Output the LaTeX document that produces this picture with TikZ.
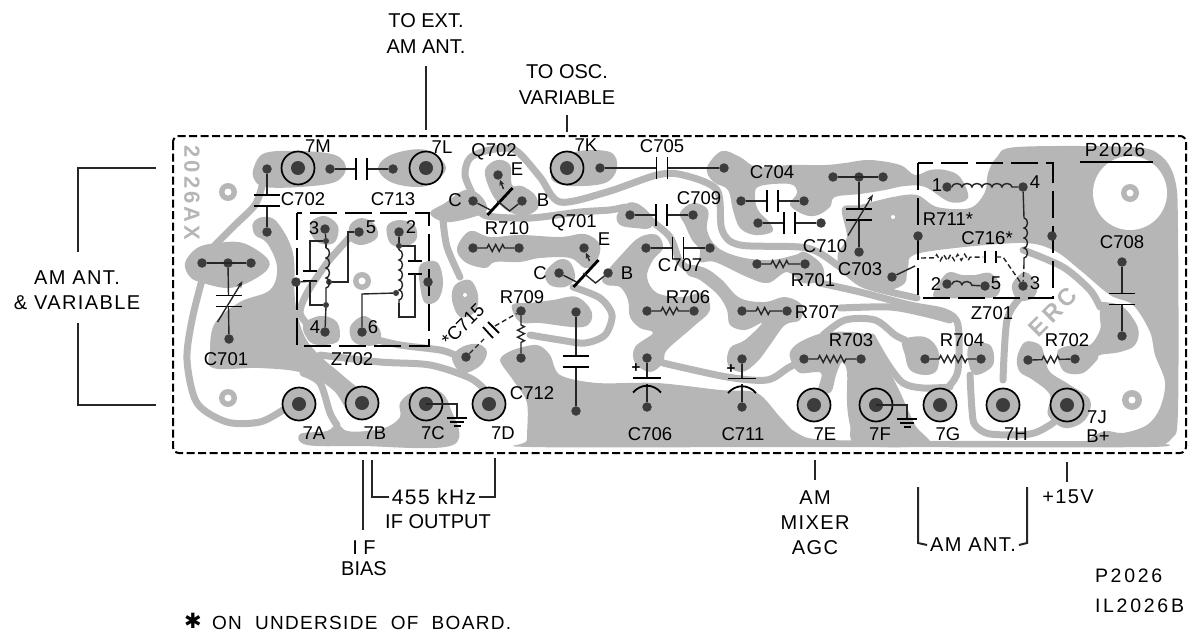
\documentclass[tikz,border=0pt]{standalone}
\usepackage{fontspec}
\setmainfont{Liberation Sans}
\newfontfamily\widefont[LetterSpace=14]{Liberation Sans}
\newfontfamily\midfont[LetterSpace=7]{Liberation Sans}
\newfontfamily\symfont{DejaVu Sans}
\usetikzlibrary{calc,decorations.pathmorphing,arrows.meta}
\definecolor{coppergray}{HTML}{B6B6B6}
\definecolor{paddark}{HTML}{3C3C3C}
\tikzset{
  copper/.style={fill=coppergray,draw=none},
  trace/.style={draw=coppergray,line width=7pt,line cap=round,line join=round},
  hole/.style={fill=white,draw=none},
  pad/.style={circle,fill=paddark,inner sep=0pt,minimum size=9.5pt},
  joint/.style={circle,fill=paddark,inner sep=0pt,minimum size=6pt},
  terminal/.style={circle,fill=coppergray,draw=black,line width=1.7pt,inner sep=0pt,minimum size=33pt},
  termdot/.style={circle,fill=paddark,inner sep=0pt,minimum size=14pt},
  lead/.style={draw=black!85,line width=1.4pt},
  plate/.style={draw=black,line width=1.8pt},
  resistor/.style={lead,decorate,decoration={zigzag,amplitude=3.4pt,segment length=7pt,pre length=9pt,post length=9pt}},
  coil/.style={lead,decorate,decoration={bumps,amplitude=3.5pt,segment length=20pt}},
  under/.style={lead,dashed,dash pattern=on 5pt off 3pt},
  boxline/.style={draw=black,line width=1.7pt,dash pattern=on 27pt off 8pt},
  boardline/.style={draw=black,line width=2pt,dash pattern=on 8pt off 3.5pt,rounded corners=6pt},
  leader/.style={draw=black!85,line width=2pt},
  part/.style={font=\fontsize{18.5}{18.5}\selectfont,inner sep=0pt,text=black},
  outer/.style={font=\fontsize{20}{26}\selectfont,inner sep=0pt,outer sep=3pt,align=center,text=black},
  wideouter/.style={outer,font=\fontsize{20}{25}\midfont},
  etched/.style={font=\fontsize{22}{22}\widefont\bfseries,inner sep=0pt,text=coppergray}
}
\newcommand{\hcap}[2]{
  \path ($(#1)!.5!(#2)$) coordinate (capm);
  \draw[lead] (#1) -- ([xshift=-5.5pt]capm);
  \draw[lead] (#2) -- ([xshift=5.5pt]capm);
  \draw[plate] ([shift={(-5.5pt,-11pt)}]capm) -- ([shift={(-5.5pt,11pt)}]capm);
  \draw[plate] ([shift={(5.5pt,-11pt)}]capm) -- ([shift={(5.5pt,11pt)}]capm);
}
\newcommand{\vcap}[2]{
  \path ($(#1)!.5!(#2)$) coordinate (capm);
  \draw[lead] (#1) -- ([yshift=5.5pt]capm);
  \draw[lead] (#2) -- ([yshift=-5.5pt]capm);
  \draw[plate] ([shift={(-13pt,5.5pt)}]capm) -- ([shift={(13pt,5.5pt)}]capm);
  \draw[plate] ([shift={(-13pt,-5.5pt)}]capm) -- ([shift={(13pt,-5.5pt)}]capm);
}
\newcommand{\trimcap}[2]{
  \vcap{#1}{#2}
  \draw[lead,-{Stealth[length=7pt,width=5pt]}] ([shift={(-11pt,-21pt)}]capm) -- ([shift={(14pt,20pt)}]capm);
}
\newcommand{\ecap}[2]{
  \path ($(#1)!.5!(#2)$) coordinate (capm);
  \draw[lead] (#1) -- ([yshift=4.5pt]capm);
  \draw[lead] (#2) -- ([yshift=-1pt]capm);
  \draw[plate] ([shift={(-14pt,4.5pt)}]capm) -- ([shift={(14pt,4.5pt)}]capm);
  \draw[plate] ([shift={(-14pt,-10pt)}]capm) .. controls ([shift={(-6pt,-1pt)}]capm) and ([shift={(6pt,-1pt)}]capm) .. ([shift={(14pt,-10pt)}]capm);
  \path ([shift={(-11pt,14pt)}]capm) node[part,font=\fontsize{15}{15}\selectfont\bfseries] {+};
}
\newcommand{\trans}[3]{
  \path ($(#1)!.5!(#3)$) coordinate (qm);
  \draw[draw=black,line width=2.8pt] ([shift={(-10pt,-14pt)}]qm) -- ([shift={(15pt,13pt)}]qm);
  \draw[lead] (#1) -- ([shift={(-7pt,-9pt)}]qm);
  \draw[lead,{Stealth[length=6pt,width=5pt]}-] (#2) -- ([shift={(6pt,12pt)}]qm);
  \draw[lead] (qm) -- ([shift={(12pt,-10pt)}]qm) -- (#3);
}
\newcommand{\gndsym}[1]{
  \draw[lead] (#1.center) -- ++(31pt,0pt) -- ++(0pt,-13pt);
  \draw[plate] ([shift={(21pt,-14pt)}]#1.center) -- ++(20pt,0pt);
  \draw[plate] ([shift={(24pt,-18pt)}]#1.center) -- ++(14pt,0pt);
  \draw[plate] ([shift={(28pt,-22pt)}]#1.center) -- ++(7pt,0pt);
}
\begin{document}
\begin{tikzpicture}[x=1pt,y=-1pt]
  \useasboundingbox (0,0) rectangle (1191,634);

  \fill[copper] plot[smooth cycle,tension=.6] coordinates {(254,167) (265,153) (300,151) (335,155) (346,168) (335,182) (300,187) (265,187) (254,179)};
  \fill[copper] plot[smooth cycle,tension=.6] coordinates {(378,168) (393,154) (426,150) (446,168) (426,186) (393,183)};
  \fill[copper] plot[smooth cycle,tension=.6] coordinates {(253,223) (263,217) (277,222) (293,253) (295,300) (303,333) (317,353) (340,373) (357,387) (373,397) (370,417) (350,413) (333,390) (303,373) (260,368) (213,368) (210,350) (215,323) (240,302) (270,290) (277,267) (267,243) (255,235)};
  \fill[copper] plot[smooth cycle,tension=.6] coordinates {(185,263) (197,248) (217,243) (243,243) (267,258) (267,270) (247,283) (227,288) (203,283) (190,277)};
  \fill[copper] plot[smooth cycle,tension=.6] coordinates {(400,403) (413,392) (437,390) (450,407) (453,445) (360,446) (307,445) (300,434) (327,431) (337,424) (347,431) (367,431) (387,427) (400,417)};
  \fill[copper] plot[smooth cycle,tension=.6] coordinates {(311,222) (325,216) (338,226) (335,242) (322,244) (312,236)};
  \fill[copper] plot[smooth cycle,tension=.6] coordinates {(350,225) (362,218) (375,225) (377,238) (362,245) (350,240)};
  \fill[copper] plot[smooth cycle,tension=.6] coordinates {(387,226) (400,220) (415,226) (416,240) (403,247) (390,243)};
  \fill[copper] plot[smooth cycle,tension=.6] coordinates {(303,325) (320,316) (337,322) (339,340) (325,345) (310,342)};
  \fill[copper] plot[smooth cycle,tension=.6] coordinates {(351,325) (365,316) (380,330) (378,344) (360,345) (351,338)};
  \fill[copper] plot[smooth cycle,tension=.6] coordinates {(420,265) (437,262) (443,282) (438,300) (425,303) (420,285)};
  \fill[copper] plot[smooth cycle,tension=.6] coordinates {(452,358) (462,347) (478,344) (487,352) (480,366) (462,373)};
  \fill[copper] plot[smooth cycle,tension=.6] coordinates {(512,305) (530,303) (553,300) (577,297) (592,313) (583,327) (540,323) (520,322)};
  \fill[copper] plot[smooth cycle,tension=.6] coordinates {(430,213) (445,203) (465,190) (480,195) (487,210) (470,218) (445,222)};
  \fill[copper] plot[smooth cycle,tension=.6] coordinates {(485,170) (497,160) (510,165) (512,185) (522,186) (535,195) (538,208) (525,216) (512,213) (500,205) (490,190)};
  \fill[copper] plot[smooth cycle,tension=.6] coordinates {(455,285) (470,280) (478,295) (475,312) (460,317) (452,300)};
  \fill[copper] plot[smooth cycle,tension=.6] coordinates {(457,248) (470,231) (490,237) (520,235) (560,237) (585,234) (600,245) (596,262) (585,268) (570,258) (540,258) (520,262) (495,262) (485,268) (465,262)};
  \fill[copper] plot[smooth cycle,tension=.6] coordinates {(545,273) (558,260) (570,262) (575,278) (565,287) (550,285)};
  \fill[copper] plot[smooth cycle,tension=.6] coordinates {(555,168) (575,152) (610,152) (617,168) (605,183) (570,186) (552,180)};
  \fill[copper] plot[smooth cycle,tension=.6] coordinates {(617,215) (628,203) (640,205) (653,218) (650,228) (635,228) (620,225)};
  \fill[copper] plot[smooth cycle,tension=.6] coordinates {(603,277) (623,253) (640,237) (657,235) (663,248) (653,260) (647,277) (657,293) (683,297) (703,293) (710,310) (693,327) (667,350) (663,363) (650,372) (635,363) (635,347) (653,333) (640,328) (630,317) (628,300) (620,287) (607,285)};
  \fill[copper] plot[smooth cycle,tension=.6] coordinates {(680,213) (693,203) (708,210) (707,230) (717,247) (740,257) (770,260) (795,255) (805,252) (822,265) (822,280) (803,283) (787,272) (768,283) (747,277) (715,262) (700,262) (700,250) (692,240) (685,225)};
  \fill[copper] plot[smooth cycle,tension=.6] coordinates {(685,265) (705,268) (722,280) (740,298) (765,302) (785,297) (802,305) (800,320) (785,325) (770,345) (757,362) (742,372) (728,365) (730,348) (745,340) (762,323) (745,330) (730,325) (727,310) (718,295) (700,280) (688,275)};
  \fill[copper] plot[smooth cycle,tension=.6] coordinates {(708,165) (722,151) (740,157) (757,167) (790,165) (825,165) (845,163) (870,160) (900,165) (915,175) (930,170) (945,170) (960,177) (968,198) (950,202) (925,187) (905,186) (885,190) (860,194) (835,197) (830,207) (818,215) (805,215) (790,205) (797,193) (790,184) (760,186) (755,195) (758,210) (770,223) (772,232) (755,235) (740,228) (733,210) (728,190) (715,183) (708,175)};
  \fill[copper] plot[smooth cycle,tension=.55] coordinates {(842,208) (860,205) (893,197) (917,195) (937,207) (970,208) (985,192) (988,173) (997,157) (1017,147) (1130,147) (1160,155) (1175,180) (1178,230) (1178,410) (1172,438) (1155,446) (1115,444) (1090,440) (1105,431) (1123,433) (1147,425) (1160,408) (1165,382) (1155,355) (1150,332) (1133,305) (1110,295) (1080,270) (1053,250) (1017,243) (920,253) (908,268) (905,283) (890,290) (875,287) (855,277) (840,267) (838,253) (847,237)};
  \fill[copper] plot[smooth cycle,tension=.5] coordinates {(500,360) (513,350) (537,345) (550,355) (560,375) (597,383) (657,383) (720,390) (757,393) (780,417) (797,433) (830,440) (1000,441) (1090,441) (1140,441) (1150,447) (800,447) (530,447) (527,440) (527,403) (513,380)};
  \fill[copper] plot[smooth cycle,tension=.55] coordinates {(790,352) (800,342) (823,333) (850,332) (870,336) (880,350) (890,372) (900,392) (915,425) (928,445) (858,445) (850,425) (847,403) (847,372) (842,362) (836,375) (831,392) (818,392) (821,373) (800,373) (792,363)};
  \fill[copper] plot[smooth cycle,tension=.6] coordinates {(903,340) (925,337) (938,350) (937,370) (925,375) (910,370) (905,355)};
  \fill[copper] plot[smooth cycle,tension=.6] coordinates {(970,345) (990,345) (993,365) (975,375) (968,360)};
  \fill[copper] plot[smooth cycle,tension=.6] coordinates {(1017,358) (1025,342) (1040,345) (1045,358) (1050,372) (1070,385) (1090,400) (1085,420) (1065,428) (1048,415) (1050,395) (1033,380) (1020,372)};
  \fill[copper] plot[smooth cycle,tension=.6] coordinates {(1100,305) (1103,302) (1123,307) (1138,328) (1135,345) (1120,352) (1100,355) (1097,360) (1083,373) (1067,373) (1060,365) (1058,350) (1075,345) (1090,345) (1100,330) (1100,318)};
  \fill[copper] plot[smooth cycle,tension=.6] coordinates {(933,295) (947,273) (962,275) (975,275) (990,273) (1000,285) (995,297) (970,298) (945,298)};
  \fill[copper] plot[smooth cycle,tension=.6] coordinates {(1012,285) (1025,272) (1037,285) (1033,298) (1018,300)};

  \draw[trace] plot[smooth] coordinates {(262,186) (255,205) (235,225) (215,245)};
  \draw[trace] plot[smooth] coordinates {(202,280) (192,320) (187,360) (197,403) (227,422) (260,422) (283,410)};
  \draw[trace] plot[smooth] coordinates {(303,373) (320,383) (330,413) (337,425)};
  \draw[trace] plot[smooth] coordinates {(350,237) (327,263) (307,293) (300,313) (310,327)};
  \draw[trace] plot[smooth] coordinates {(370,338) (400,345) (440,350) (455,355)};
  \draw[trace] plot[smooth] coordinates {(320,355) (380,362) (430,365) (470,378) (485,390)};
  \draw[trace] plot[smooth] coordinates {(473,195) (465,175) (470,158) (490,150) (515,150) (540,177) (560,202) (607,192) (657,175) (683,175) (717,190) (722,230) (740,245) (807,248) (840,267) (865,285) (917,298)};
  \draw[trace] plot[smooth] coordinates {(443,220) (447,247) (460,277)};
  \draw[trace] plot[smooth] coordinates {(478,208) (487,216) (530,218) (580,212) (610,210) (625,207)};
  \draw[trace] plot[smooth] coordinates {(573,287) (600,298) (612,315) (605,335) (585,343) (560,340) (530,335)};
  \draw[trace] plot[smooth] coordinates {(650,220) (670,237) (680,262) (692,270)};
  \draw[trace] plot[smooth] coordinates {(663,363) (727,377) (767,380) (788,368) (803,360)};
  \draw[trace] plot[smooth] coordinates {(820,283) (860,292) (910,305) (945,312) (958,325) (958,370) (950,385)};
  \draw[trace] plot[smooth] coordinates {(840,308) (890,307) (923,313) (950,320)};
  \draw[trace] plot[smooth] coordinates {(823,335) (845,320) (875,320) (895,335) (905,340)};
  \draw[trace] plot[smooth] coordinates {(872,337) (887,363) (903,383) (923,388) (950,387)};
  \draw[trace] plot[smooth] coordinates {(1003,380) (1007,320) (1020,298)};
  \draw[trace] plot[smooth] coordinates {(970,375) (972,410) (975,425) (990,434) (1030,434) (1050,425) (1058,418)};
  \draw[trace] plot[smooth] coordinates {(1023,250) (1063,267) (1090,290) (1100,307)};

  \fill[hole] (1130,193) circle (37pt);
  \fill[hole] (893,217) circle (2pt);
  \fill[copper] (228,192) circle (9pt);
  \fill[hole] (228,192) circle (3.5pt);
  \fill[copper] (228,398) circle (9pt);
  \fill[hole] (228,398) circle (3.5pt);
  \fill[copper] (362,281) circle (9pt);
  \fill[hole] (362,281) circle (3.5pt);
  \fill[hole] (465,295) circle (2pt);
  \fill[copper] (1130,193) circle (9pt);
  \fill[hole] (1130,193) circle (3.5pt);
  \fill[copper] (1132,400) circle (10pt);
  \fill[hole] (1132,400) circle (3.5pt);

  \path (192,193) node[etched,rotate=-90] (lboard) {2026AX};
  \path (1053,312) node[etched,rotate=45,font=\fontsize{24}{24}\widefont\bfseries] (lerc) {ERC};

  \draw[boardline] (173,136) rectangle (1186,453);
  \draw[boxline] (297,213) rectangle (429,346);
  \draw[boxline] (918,163) rectangle (1053,298);

  \path (298,168) node[terminal] (t7m) {} node[termdot] {};
  \path (426,168) node[terminal] (t7l) {} node[termdot] {};
  \path (567,168) node[terminal] (t7k) {} node[termdot] {};
  \path (299,404) node[terminal] (t7a) {} node[termdot] {};
  \path (362,403) node[terminal] (t7b) {} node[termdot] {};
  \path (426,404) node[terminal] (t7c) {} node[termdot] {};
  \path (489,404) node[terminal] (t7d) {} node[termdot] {};
  \path (814,405) node[terminal] (t7e) {} node[termdot] {};
  \path (876,405) node[terminal] (t7f) {} node[termdot] {};
  \path (940,405) node[terminal] (t7g) {} node[termdot] {};
  \path (1003,405) node[terminal] (t7h) {} node[termdot] {};
  \path (1067,405) node[terminal] (t7j) {} node[termdot] {};

  \path (267,169) node[pad] (c702a) {};
  \path (267,232) node[pad] (c702b) {};
  \path (330,169) node[pad] (c713a) {};
  \path (393,169) node[pad] (c713b) {};
  \path (202,263) node[pad] (c701l) {};
  \path (228,263) node[pad] (c701a) {};
  \path (251,263) node[pad] (c701r) {};
  \path (229,339) node[pad] (c701b) {};
  \path (325,229) node[pad] (z2p3) {};
  \path (326,241) node[joint] (z2t) {};
  \path (359,232) node[pad] (z2p5) {};
  \path (399,232) node[pad] (z2p2) {};
  \path (399,246) node[joint] (z2r) {};
  \path (296,282) node[pad] (z2l) {};
  \path (329,282) node[joint] (z2m) {};
  \path (326,305) node[joint] (z2b) {};
  \path (325,332) node[pad] (z2p4) {};
  \path (362,332) node[pad] (z2p6) {};
  \path (396,293) node[joint] (z2n) {};
  \path (428,282) node[pad] (z2e) {};
  \path (498,175) node[pad] (q702e) {};
  \path (473,201) node[pad] (q702c) {};
  \path (522,201) node[pad] (q702b) {};
  \path (473,248) node[pad] (r710a) {};
  \path (519,248) node[pad] (r710b) {};
  \path (466,357) node[pad] (c715a) {};
  \path (521,311) node[pad] (r709a) {};
  \path (521,358) node[pad] (r709b) {};
  \path (600,168) node[pad] (c705a) {};
  \path (724,168) node[pad] (c705b) {};
  \path (741,201) node[pad] (c704a) {};
  \path (804,201) node[pad] (c704b) {};
  \path (758,223) node[pad] (c704c) {};
  \path (821,223) node[pad] (c704d) {};
  \path (630,215) node[pad] (c709a) {};
  \path (693,215) node[pad] (c709b) {};
  \path (646,248) node[pad] (c707a) {};
  \path (710,248) node[pad] (c707b) {};
  \path (757,264) node[pad] (r701a) {};
  \path (805,264) node[pad] (r701b) {};
  \path (584,248) node[pad] (q701e) {};
  \path (559,273) node[pad] (q701c) {};
  \path (608,273) node[pad] (q701b) {};
  \path (576,312) node[pad] (c712a) {};
  \path (576,411) node[pad] (c712b) {};
  \path (647,311) node[pad] (r706a) {};
  \path (694,311) node[pad] (r706b) {};
  \path (742,311) node[pad] (r707a) {};
  \path (787,311) node[pad] (r707b) {};
  \path (647,358) node[pad] (c706a) {};
  \path (647,407) node[pad] (c706b) {};
  \path (742,359) node[pad] (c711a) {};
  \path (742,407) node[pad] (c711b) {};
  \path (804,359) node[pad] (r703a) {};
  \path (861,359) node[pad] (r703b) {};
  \path (833,177) node[pad] (c710l) {};
  \path (859,177) node[pad] (c710a) {};
  \path (883,177) node[pad] (c710r) {};
  \path (859,252) node[pad] (c710b) {};
  \path (947,187) node[pad] (z1p1) {};
  \path (1023,187) node[pad] (z1p4) {};
  \path (918,236) node[pad] (z1l) {};
  \path (1052,236) node[pad] (z1e) {};
  \path (947,284) node[pad] (z1p2) {};
  \path (985,286) node[pad] (z1p5) {};
  \path (1023,286) node[pad] (z1p3) {};
  \path (892,277) node[pad] (c703a) {};
  \path (925,359) node[pad] (r704a) {};
  \path (981,359) node[pad] (r704b) {};
  \path (1028,360) node[pad] (r702a) {};
  \path (1075,359) node[pad] (r702b) {};
  \path (1122,262) node[pad] (c708a) {};
  \path (1122,336) node[pad] (c708b) {};

  \vcap{c702a}{c702b}
  \hcap{c713a}{c713b}
  \draw[lead] (c701l) -- (c701r);
  \trimcap{c701a}{c701b}
  \hcap{c705a}{c705b}
  \hcap{c704a}{c704b}
  \hcap{c704c}{c704d}
  \hcap{c709a}{c709b}
  \hcap{c707a}{c707b}
  \vcap{c712a}{c712b}
  \ecap{c706a}{c706b}
  \ecap{c711a}{c711b}
  \draw[lead] (c710l) -- (c710r);
  \trimcap{c710a}{c710b}
  \vcap{c708a}{c708b}
  \trans{q702c}{q702e}{q702b}
  \trans{q701c}{q701e}{q701b}
  \gndsym{t7c}
  \gndsym{t7f}
  \draw[resistor] (r710a) -- (r710b);
  \draw[resistor] (r709a) -- (r709b);
  \draw[resistor] (r701a) -- (r701b);
  \draw[resistor] (r706a) -- (r706b);
  \draw[resistor] (r707a) -- (r707b);
  \draw[resistor] (r703a) -- (r703b);
  \draw[resistor] (r704a) -- (r704b);
  \draw[resistor] (r702a) -- (r702b);

  \draw[lead] (z2p3) -- (z2t);
  \draw[coil] (326,248) -- (326,291);
  \draw[lead] (z2t) -- (326,248);
  \draw[lead] (326,291) -- (z2b) -- (z2p4);
  \draw[lead] (z2t) -- (310,241) -- (310,271);
  \draw[plate] (303,271) -- (317,271);
  \draw[plate] (303,281) -- (317,281);
  \draw[lead] (z2l) -- (317,281);
  \draw[lead] (310,281) -- (310,305) -- (z2b);
  \draw[lead] (z2m) -- (348,282) -- (348,232) -- (z2p5);
  \draw[lead] (z2p2) -- (z2r);
  \draw[coil] (399,250) -- (399,303);
  \draw[lead] (z2r) -- (399,250);
  \draw[lead] (z2r) -- (415,246) -- (415,261);
  \draw[plate] (408,261) -- (422,261);
  \draw[plate] (408,274) -- (422,274);
  \draw[lead] (415,274) -- (415,317) -- (399,317) -- (399,303);
  \draw[lead] (z2n) -- (362,294) -- (z2p6);
  \draw[under] (c715a) -- (484,339);
  \draw[plate] (483,327) -- (493,338);
  \draw[plate] (488,322) -- (499,333);
  \draw[under] (495,326) -- (r709a);

  \draw[coil] (z1p1) -- (z1p4);
  \draw[lead] (z1p4) -- (1024,218);
  \draw[coil] (1024,218) -- (1024,264);
  \draw[under] (1024,264) -- (z1p3);
  \draw[lead] (c703a) -- (915,266);
  \draw[under,decorate,decoration={zigzag,amplitude=3pt,segment length=7pt,pre length=14pt,post length=12pt}] (921,258) -- (983,257);
  \draw[plate] (985,251) -- (985,263);
  \draw[plate] (996,251) -- (996,263);
  \draw[under] (996,257) -- (1003,257) -- (z1p3);
  \draw[coil] (z1p2) -- (z1p5);

  \draw[draw=black,line width=1.8pt] (1080,162) -- (1153,162);

  \path (318,146) node[part] (l7m) {7M};
  \path (442,147) node[part] (l7l) {7L};
  \path (586,145) node[part] (l7k) {7K};
  \path (314,433) node[part] (l7a) {7A};
  \path (375,433) node[part] (l7b) {7B};
  \path (433,433) node[part] (l7c) {7C};
  \path (503,433) node[part] (l7d) {7D};
  \path (825,434) node[part] (l7e) {7E};
  \path (880,434) node[part] (l7f) {7F};
  \path (948,434) node[part] (l7g) {7G};
  \path (1016,434) node[part] (l7h) {7H};
  \path (1097,417) node[part] (l7j) {7J};
  \path (1098,436) node[part] (lbplus) {B+};
  \path (303,199) node[part] (lc702) {C702};
  \path (393,199) node[part] (lc713) {C713};
  \path (226,359) node[part] (lc701) {C701};
  \path (352,359) node[part] (lz702) {Z702};
  \path (314,228) node[part] (lz3) {3};
  \path (371,227) node[part] (lz5) {5};
  \path (411,227) node[part] (lz2) {2};
  \path (315,327) node[part] (lz4) {4};
  \path (373,327) node[part] (lz6) {6};
  \path (494,152) node[part] (lq702) {Q702};
  \path (517,169) node[part] (lq702e) {E};
  \path (455,200) node[part] (lq702c) {C};
  \path (543,200) node[part] (lq702b) {B};
  \path (507,228) node[part] (lr710) {R710};
  \path (522,297) node[part] (lr709) {R709};
  \path (532,393) node[part] (lc712) {C712};
  \path (463,325) node[part,rotate=45] (lc715) {*C715};
  \path (662,146) node[part] (lc705) {C705};
  \path (772,172) node[part] (lc704) {C704};
  \path (699,198) node[part] (lc709) {C709};
  \path (574,223) node[part] (lq701) {Q701};
  \path (604,239) node[part] (lq701e) {E};
  \path (540,273) node[part] (lq701c) {C};
  \path (627,273) node[part] (lq701b) {B};
  \path (680,265) node[part] (lc707) {C707};
  \path (825,246) node[part] (lc710) {C710};
  \path (813,280) node[part] (lr701) {R701};
  \path (860,269) node[part] (lc703) {C703};
  \path (688,297) node[part] (lr706) {R706};
  \path (817,312) node[part] (lr707) {R707};
  \path (851,340) node[part] (lr703) {R703};
  \path (650,434) node[part] (lc706) {C706};
  \path (743,434) node[part] (lc711) {C711};
  \path (1115,150) node[part,font=\fontsize{19}{19}\midfont] (lp2026) {P2026};
  \path (948,219) node[part] (lr711) {R711*};
  \path (987,238) node[part] (lc716) {C716*};
  \path (937,185) node[part] (lz1) {1};
  \path (1035,182) node[part] (lz4b) {4};
  \path (936,284) node[part] (lz2b) {2};
  \path (996,283) node[part] (lz5b) {5};
  \path (1035,283) node[part] (lz3b) {3};
  \path (992,313) node[part] (lz701) {Z701};
  \path (962,340) node[part] (lr704) {R704};
  \path (1067,340) node[part] (lr702) {R702};
  \path (1122,242) node[part] (lc708) {C708};

  \path (426,34) node[outer] (lext) {TO EXT.\\AM ANT.};
  \path (567,85) node[outer] (losc) {TO OSC.\\VARIABLE};
  \path (77,290) node[wideouter] (lam) {AM ANT.\\\& VARIABLE};
  \path (434,497) node[wideouter,font=\fontsize{21}{25}\midfont] (l455) {455 kHz};
  \path (438,522) node[outer] (lif) {IF OUTPUT};
  \path (364,558) node[outer,font=\fontsize{20}{21}\selectfont] (lbias) {I F\\BIAS};
  \path (815,523) node[wideouter] (lmix) {AM\\MIXER\\AGC};
  \path (973,545) node[wideouter] (lant) {AM ANT.};
  \path (1068,497) node[wideouter] (l15v) {+15V};
  \path (1092,576) node[outer,anchor=west,font=\fontsize{19.5}{20}\widefont] (lp) {P2026};
  \path (1092,606) node[outer,anchor=west,font=\fontsize{19.5}{20}\widefont] (lil) {IL2026B};
  \path (193,621) node[outer,font=\fontsize{21}{21}\symfont] (lstar) {✱};
  \path (212,623) node[wideouter,anchor=west,outer sep=0pt,font=\fontsize{19}{25}\midfont] (lnote) {ON\ \ UNDERSIDE\ \ OF\ \ BOARD.};

  \path (426,66) coordinate (extA);
  \path (426,130) coordinate (extB);
  \path (567,115) coordinate (oscA);
  \path (567,132) coordinate (oscB);
  \draw[leader] (extA) -- (extB);
  \draw[leader] (oscA) -- (oscB);
  \path (156,168) coordinate (amA);
  \path (78,168) coordinate (amB);
  \path (78,252) coordinate (amC);
  \path (78,323) coordinate (amD);
  \path (78,405) coordinate (amE);
  \path (156,405) coordinate (amF);
  \draw[leader] (amA) -- (amB) -- (amC);
  \draw[leader] (amD) -- (amE) -- (amF);
  \path (363,460) coordinate (biasA);
  \path (363,530) coordinate (biasB);
  \draw[leader] (biasA) -- (biasB);
  \path (372,460) coordinate (ifA);
  \path (372,497) coordinate (ifB);
  \draw[leader] (ifA) -- (ifB) -- (l455.west);
  \path (495,458) coordinate (ifC);
  \path (495,497) coordinate (ifD);
  \draw[leader] (ifC) -- (ifD) -- (l455.east);
  \path (815,460) coordinate (mixA);
  \path (815,480) coordinate (mixB);
  \draw[leader] (mixA) -- (mixB);
  \path (918,487) coordinate (antA);
  \path (918,543) coordinate (antB);
  \draw[leader] (antA) -- (antB) -- (lant.west);
  \path (1027,487) coordinate (antC);
  \path (1027,543) coordinate (antD);
  \draw[leader] (antC) -- (antD) -- (lant.east);
  \path (1067,462) coordinate (plusA);
  \path (1067,482) coordinate (plusB);
  \draw[leader] (plusA) -- (plusB);
\end{tikzpicture}
\end{document}
